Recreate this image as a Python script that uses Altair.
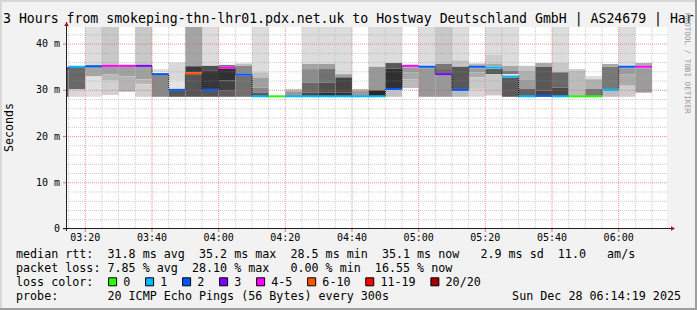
import altair as alt
import pandas as pd

MONO = "DejaVu Sans Mono"
TOP = 43.7  # top of the value axis (ms) - pings above it fill to the top

# ---------------- data ----------------
bar_starts = ["03:10", "03:15", "03:20", "03:25", "03:30", "03:35", "03:40", "03:45",
              "03:50", "03:55", "04:00", "04:05", "04:10", "04:15", "04:20", "04:25",
              "04:30", "04:35", "04:40", "04:45", "04:50", "04:55", "05:00", "05:05",
              "05:10", "05:15", "05:20", "05:25", "05:30", "05:35", "05:40", "05:45",
              "05:50", "05:55", "06:00", "06:05"]
medians = [34.8, 35.1, 35.2, 35.3, 35.3, 35.3, 33.5, 30.1, 33.7, 30.1, 34.9, 33.4,
           28.7, 28.7, 28.7, 28.7, 28.7, 28.7, 28.7, 28.7, 30.3, 35.3, 35.1, 33.5,
           30.1, 35.1, 34.9, 33.0, 28.7, 28.8, 28.7, 28.7, 28.7, 30.1, 35.1, 35.1]
loss_bucket = [3, 1, 2, 4, 4, 3, 2, 2, 5, 2, 4, 2, 1, 0, 1, 1, 1, 1, 1, 1, 2, 4, 2, 3,
               2, 2, 1, 1, 1, 2, 1, 0, 0, 1, 2, 4]
# smoke bands per interval: (low ms, high ms, grey level)
smoke = [
    [(28.6, 34.7, 0x60)],
    [(30.2, 35.0, 0x68), (28.6, 30.2, 0xd8)],
    [(35.5, TOP, 0xdc), (35.3, 35.5, 0xb4), (33.0, 35.1, 0xa6), (28.6, 33.0, 0xe0)],
    [(35.5, TOP, 0xc8), (33.5, 35.1, 0xa0), (32.1, 33.5, 0xb8), (29.0, 32.1, 0xd0)],
    [(33.0, 35.1, 0xa0), (29.7, 33.0, 0xb4)],
    [(35.5, TOP, 0xc8), (32.4, 35.1, 0xa0), (31.3, 32.4, 0xb8), (28.6, 31.3, 0xd0)],
    [(33.9, 34.6, 0xe0), (28.6, 33.3, 0x88)],
    [(32.2, 36.0, 0xd8), (30.3, 32.2, 0xe4), (28.6, 29.9, 0x55)],
    [(35.2, TOP, 0xa4), (33.9, 35.2, 0x3a), (28.6, 33.5, 0x55)],
    [(35.3, TOP, 0xdc), (34.2, 35.3, 0x50), (30.3, 34.2, 0x36), (28.6, 29.9, 0x55)],
    [(35.1, 35.5, 0x78), (32.1, 34.7, 0x30), (29.9, 32.1, 0x40), (28.6, 29.9, 0x5c)],
    [(35.3, 35.8, 0xc0), (33.6, 35.3, 0x88), (28.6, 33.2, 0x70)],
    [(33.9, TOP, 0xdc), (32.8, 33.9, 0xc0), (30.6, 32.8, 0xa0), (29.5, 30.6, 0x88), (28.8, 29.5, 0x58)],
    [],
    [(29.8, 30.3, 0xc8), (28.8, 29.8, 0x98)],
    [(35.7, TOP, 0xdc), (34.6, 35.7, 0xa4), (31.7, 34.6, 0x8c), (29.5, 31.7, 0x68), (28.8, 29.5, 0x48)],
    [(35.7, TOP, 0xdc), (34.6, 35.7, 0xa0), (31.7, 34.6, 0x70), (29.5, 31.7, 0x50), (28.8, 29.5, 0x30)],
    [(33.5, TOP, 0xdc), (32.8, 33.5, 0xa0), (29.5, 32.8, 0x44), (28.8, 29.5, 0x33)],
    [(29.9, 30.3, 0xbc), (28.8, 29.9, 0x9c)],
    [(35.1, TOP, 0xdc), (30.0, 35.1, 0x98), (28.8, 30.0, 0x28)],
    [(35.9, TOP, 0xdc), (34.7, 35.9, 0x58), (30.5, 34.7, 0x30), (28.6, 30.0, 0xc0)],
    [(33.9, 35.0, 0x9c), (32.4, 33.9, 0xa8), (30.5, 32.4, 0xbc)],
    [(35.3, TOP, 0xdc), (28.6, 34.8, 0x98)],
    [(35.7, TOP, 0xc8), (34.6, 35.7, 0x78), (33.7, 34.6, 0x68), (28.6, 33.3, 0x98)],
    [(36.5, TOP, 0xdc), (35.1, 36.5, 0xc4), (30.3, 35.1, 0x58), (28.6, 29.9, 0xbc)],
    [(35.3, 35.8, 0xb8), (33.9, 34.8, 0x9c), (32.8, 33.9, 0xac), (30.3, 32.8, 0xc8), (28.6, 30.3, 0xd8)],
    [(37.7, TOP, 0xdc), (35.7, 37.7, 0xcc), (35.1, 35.7, 0xa8), (33.5, 34.6, 0x58), (28.9, 33.5, 0xc8)],
    [(35.3, TOP, 0xdc), (34.2, 35.3, 0xa8), (33.5, 34.2, 0x78), (28.6, 32.8, 0x5a)],
    [(34.2, 35.3, 0xc4), (32.4, 34.2, 0xb0), (30.3, 32.4, 0x9c), (28.8, 30.3, 0x60)],
    [(35.1, 35.9, 0xa8), (29.9, 35.1, 0x58), (29.0, 29.9, 0x44)],
    [(36.0, TOP, 0xdc), (33.9, 36.0, 0xc8), (30.6, 33.9, 0x68), (28.8, 30.6, 0x48)],
    [(34.2, 34.6, 0xcc), (28.8, 34.2, 0xbc)],
    [(32.4, 33.1, 0xdc), (30.3, 32.4, 0xb0), (28.8, 30.3, 0x78)],
    [(35.1, 35.7, 0xa8), (30.3, 35.1, 0x78), (28.6, 29.9, 0xbc)],
    [(35.3, TOP, 0xdc), (33.5, 34.8, 0x9c), (31.0, 33.5, 0xac), (28.6, 31.0, 0xcc)],
    [(35.3, 35.9, 0xac), (29.5, 34.8, 0x9c)],
]
loss_labels = ["0", "1", "2", "3", "4-5", "6-10", "11-19", "20/20"]
loss_colors = ["#26ff00", "#00b8ff", "#0059ff", "#7e00ff", "#ff00ff", "#ff5500", "#ff0000", "#a10000"]
x_tick_labels = ["03:20", "03:40", "04:00", "04:20", "04:40", "05:00", "05:20", "05:40", "06:00"]
y_tick_values = [0, 10, 20, 30, 40]
y_tick_labels = ["0", "10 m", "20 m", "30 m", "40 m"]
x_window = ["03:14:30", "06:14:30"]

title_text = "3 Hours from smokeping-thn-lhr01.pdx.net.uk to Hostway Deutschland GmbH | AS24679 | Har"
y_title = "Seconds"
stats_rtt = "median rtt:  31.8 ms avg  35.2 ms max  28.5 ms min  35.1 ms now   2.9 ms sd  11.0   am/s"
stats_loss = "packet loss: 7.85 % avg  28.10 % max   0.00 % min  16.55 % now"
loss_head = "loss color:"
probe_text = "probe:       20 ICMP Echo Pings (56 Bytes) every 300s"
date_text = "Sun Dec 28 06:14:19 2025"
watermark = "RRDTOOL / TOBI OETIKER"
STEP = 5


def hm(s):
    parts = [int(p) for p in s.split(":")]
    return parts[0] * 60 + parts[1] + (parts[2] / 60 if len(parts) > 2 else 0)


# ---------------- tables ----------------
rect_rows = []
for s, bands in zip(bar_starts, smoke):
    st = hm(s)
    for lo, hi, g in bands:
        rect_rows.append(dict(start=st, end=st + STEP, lo=lo, hi=hi,
                              shade="#%02x%02x%02x" % (g, g, g)))
rect_df = pd.DataFrame(rect_rows)

med_df = pd.DataFrame(dict(start=[hm(s) for s in bar_starts],
                           end=[hm(s) + STEP for s in bar_starts],
                           median=medians,
                           col=[loss_colors[b] for b in loss_bucket]))
step_rows = []
k = 0
for s, m in zip(bar_starts, medians):
    for xx in (hm(s), hm(s) + STEP):
        step_rows.append(dict(t=xx, m=m, idx=k))
        k += 1
step_df = pd.DataFrame(step_rows)

xmin, xmax = hm(x_window[0]), hm(x_window[1])
xs = alt.Scale(domain=[xmin, xmax], nice=False, zero=False)
ys = alt.Scale(domain=[0, TOP], nice=False, zero=True)

major_x = [hm(t) for t in x_tick_labels]
minor_x = [m for m in range(int(xmin) + 1, int(xmax), 5) if m % 5 == 0 and m not in major_x]
major_y = [v for v in y_tick_values if v > 0]
minor_y = [v for v in range(2, int(TOP) + 1, 2) if v % 10 != 0]

smoke_layer = alt.Chart(rect_df).mark_rect(clip=True).encode(
    x=alt.X("start:Q", scale=xs, axis=None),
    x2="end:Q",
    y=alt.Y("lo:Q", scale=ys, axis=None),
    y2="hi:Q",
    color=alt.Color("shade:N", scale=None),
)


def vgrid(vals, color, op):
    return alt.Chart(pd.DataFrame({"g": vals})).mark_rule(
        color=color, opacity=op, strokeDash=[1, 1], strokeWidth=1
    ).encode(x=alt.X("g:Q", scale=xs, axis=None))


def hgrid(vals, color, op):
    return alt.Chart(pd.DataFrame({"g": vals})).mark_rule(
        color=color, opacity=op, strokeDash=[1, 1], strokeWidth=1
    ).encode(y=alt.Y("g:Q", scale=ys, axis=None))


grid_layers = [vgrid(minor_x, "#8f8f8f", 0.45), hgrid(minor_y, "#8f8f8f", 0.45),
               vgrid(major_x, "#de5151", 0.6), hgrid(major_y, "#de5151", 0.6)]

step_line = alt.Chart(step_df).mark_line(
    color="#000000", strokeWidth=1, strokeDash=[1, 1], clip=True, interpolate="linear"
).encode(x=alt.X("t:Q", scale=xs, axis=None), y=alt.Y("m:Q", scale=ys, axis=None),
         order=alt.Order("idx:Q"))

median_layer = alt.Chart(med_df).mark_rule(strokeWidth=2, clip=True).encode(
    x=alt.X("start:Q", scale=xs, axis=None), x2="end:Q",
    y=alt.Y("median:Q", scale=ys, axis=None),
    color=alt.Color("col:N", scale=None),
)

W, H = 600, 202

# tick marks and tick labels, positioned through the shared scales
xt_df = pd.DataFrame({"v": major_x, "lab": x_tick_labels})
yt_df = pd.DataFrame({"v": y_tick_values, "lab": y_tick_labels})
x_ticks = alt.Chart(xt_df).mark_rule(color="#e07070", strokeWidth=1).encode(
    x=alt.X("v:Q", scale=xs, axis=None), y=alt.value(H), y2=alt.value(H + 3))
x_labels = alt.Chart(xt_df).mark_text(font=MONO, fontSize=10, color="#000000",
                                      baseline="middle", align="center").encode(
    x=alt.X("v:Q", scale=xs, axis=None), y=alt.value(H + 9), text="lab:N")
y_ticks = alt.Chart(yt_df).mark_rule(color="#e07070", strokeWidth=1).encode(
    y=alt.Y("v:Q", scale=ys, axis=None), x=alt.value(-4), x2=alt.value(-1))
y_labels = alt.Chart(yt_df).mark_text(font=MONO, fontSize=10, color="#000000",
                                      baseline="middle", align="right").encode(
    y=alt.Y("v:Q", scale=ys, axis=None), x=alt.value(-7), text="lab:N")

one = pd.DataFrame({"a": [0]})


def rule(x1, y1, x2, y2, color, width=1):
    return alt.Chart(one).mark_rule(color=color, strokeWidth=width).encode(
        x=alt.value(x1), y=alt.value(y1), x2=alt.value(x2), y2=alt.value(y2))


def txt(px, py, s, size, color="#000000", align="left", angle=0):
    return alt.Chart(one).mark_text(
        align=align, baseline="middle", angle=angle, font=MONO, fontSize=size,
        color=color, text=s.replace(" ", "\u00a0")
    ).encode(x=alt.value(px), y=alt.value(py))


def shape(px, py, sh, size, fill, stroke=None):
    kw = dict(shape=sh, size=size, filled=True, fill=fill, opacity=1)
    if stroke:
        kw.update(stroke=stroke, strokeWidth=1)
    else:
        kw.update(strokeWidth=0)
    return alt.Chart(one).mark_point(**kw).encode(x=alt.value(px), y=alt.value(py))


deco = [
    # axes
    rule(-0.5, -5, -0.5, 204, "#202020"),
    rule(-4, 201.5, 605, 201.5, "#202020"),
    shape(-0.5, -3, "triangle-up", 22, "#a01818"),
    shape(606, 201.5, "triangle-right", 22, "#a01818"),
    # frame of the image
    rule(-67, -26, 630, -26, "#d8d8d8", 2),
    rule(-66, -27, -66, 283, "#d8d8d8", 2),
    rule(-67, 282, 630, 282, "#9e9e9e", 2),
    rule(629, -27, 629, 283, "#9e9e9e", 2),
]

texts = [
    txt(-64, -8.5, title_text, 13.2),
    txt(-57, 100.5, y_title, 11.6, align="center", angle=270),
    txt(619.5, -14, watermark, 7.6, color="#999999", angle=90),
    txt(-51, 227, stats_rtt, 11.7),
    txt(-51, 241, stats_loss, 11.7),
    txt(-51, 255, loss_head, 11.7),
    txt(-51, 269, probe_text, 11.7),
    txt(614, 269, date_text, 11.7, align="right"),
]

legend = []
bx = 108.3 - 67
for lab, col in zip(loss_labels, loss_colors):
    legend.append(shape(bx + 4.3, 254.8, "square", 64, col, "#000000"))
    legend.append(txt(bx + 15, 255, lab, 11.7))
    bx += 37.0 + 7.03 * (len(lab) - 1)

chart = alt.layer(
    smoke_layer, *grid_layers, step_line, median_layer,
    x_ticks, y_ticks, x_labels, y_labels, *deco, *texts, *legend
).properties(
    width=W, height=H, background="#f2f2f2",
    autosize=alt.AutoSizeParams(type="none"),
    padding={"left": 67, "top": 27, "right": 30, "bottom": 81},
).configure_view(fill="white", stroke=None)

chart.save("out.html", embed_options={"renderer": "svg", "actions": False})
